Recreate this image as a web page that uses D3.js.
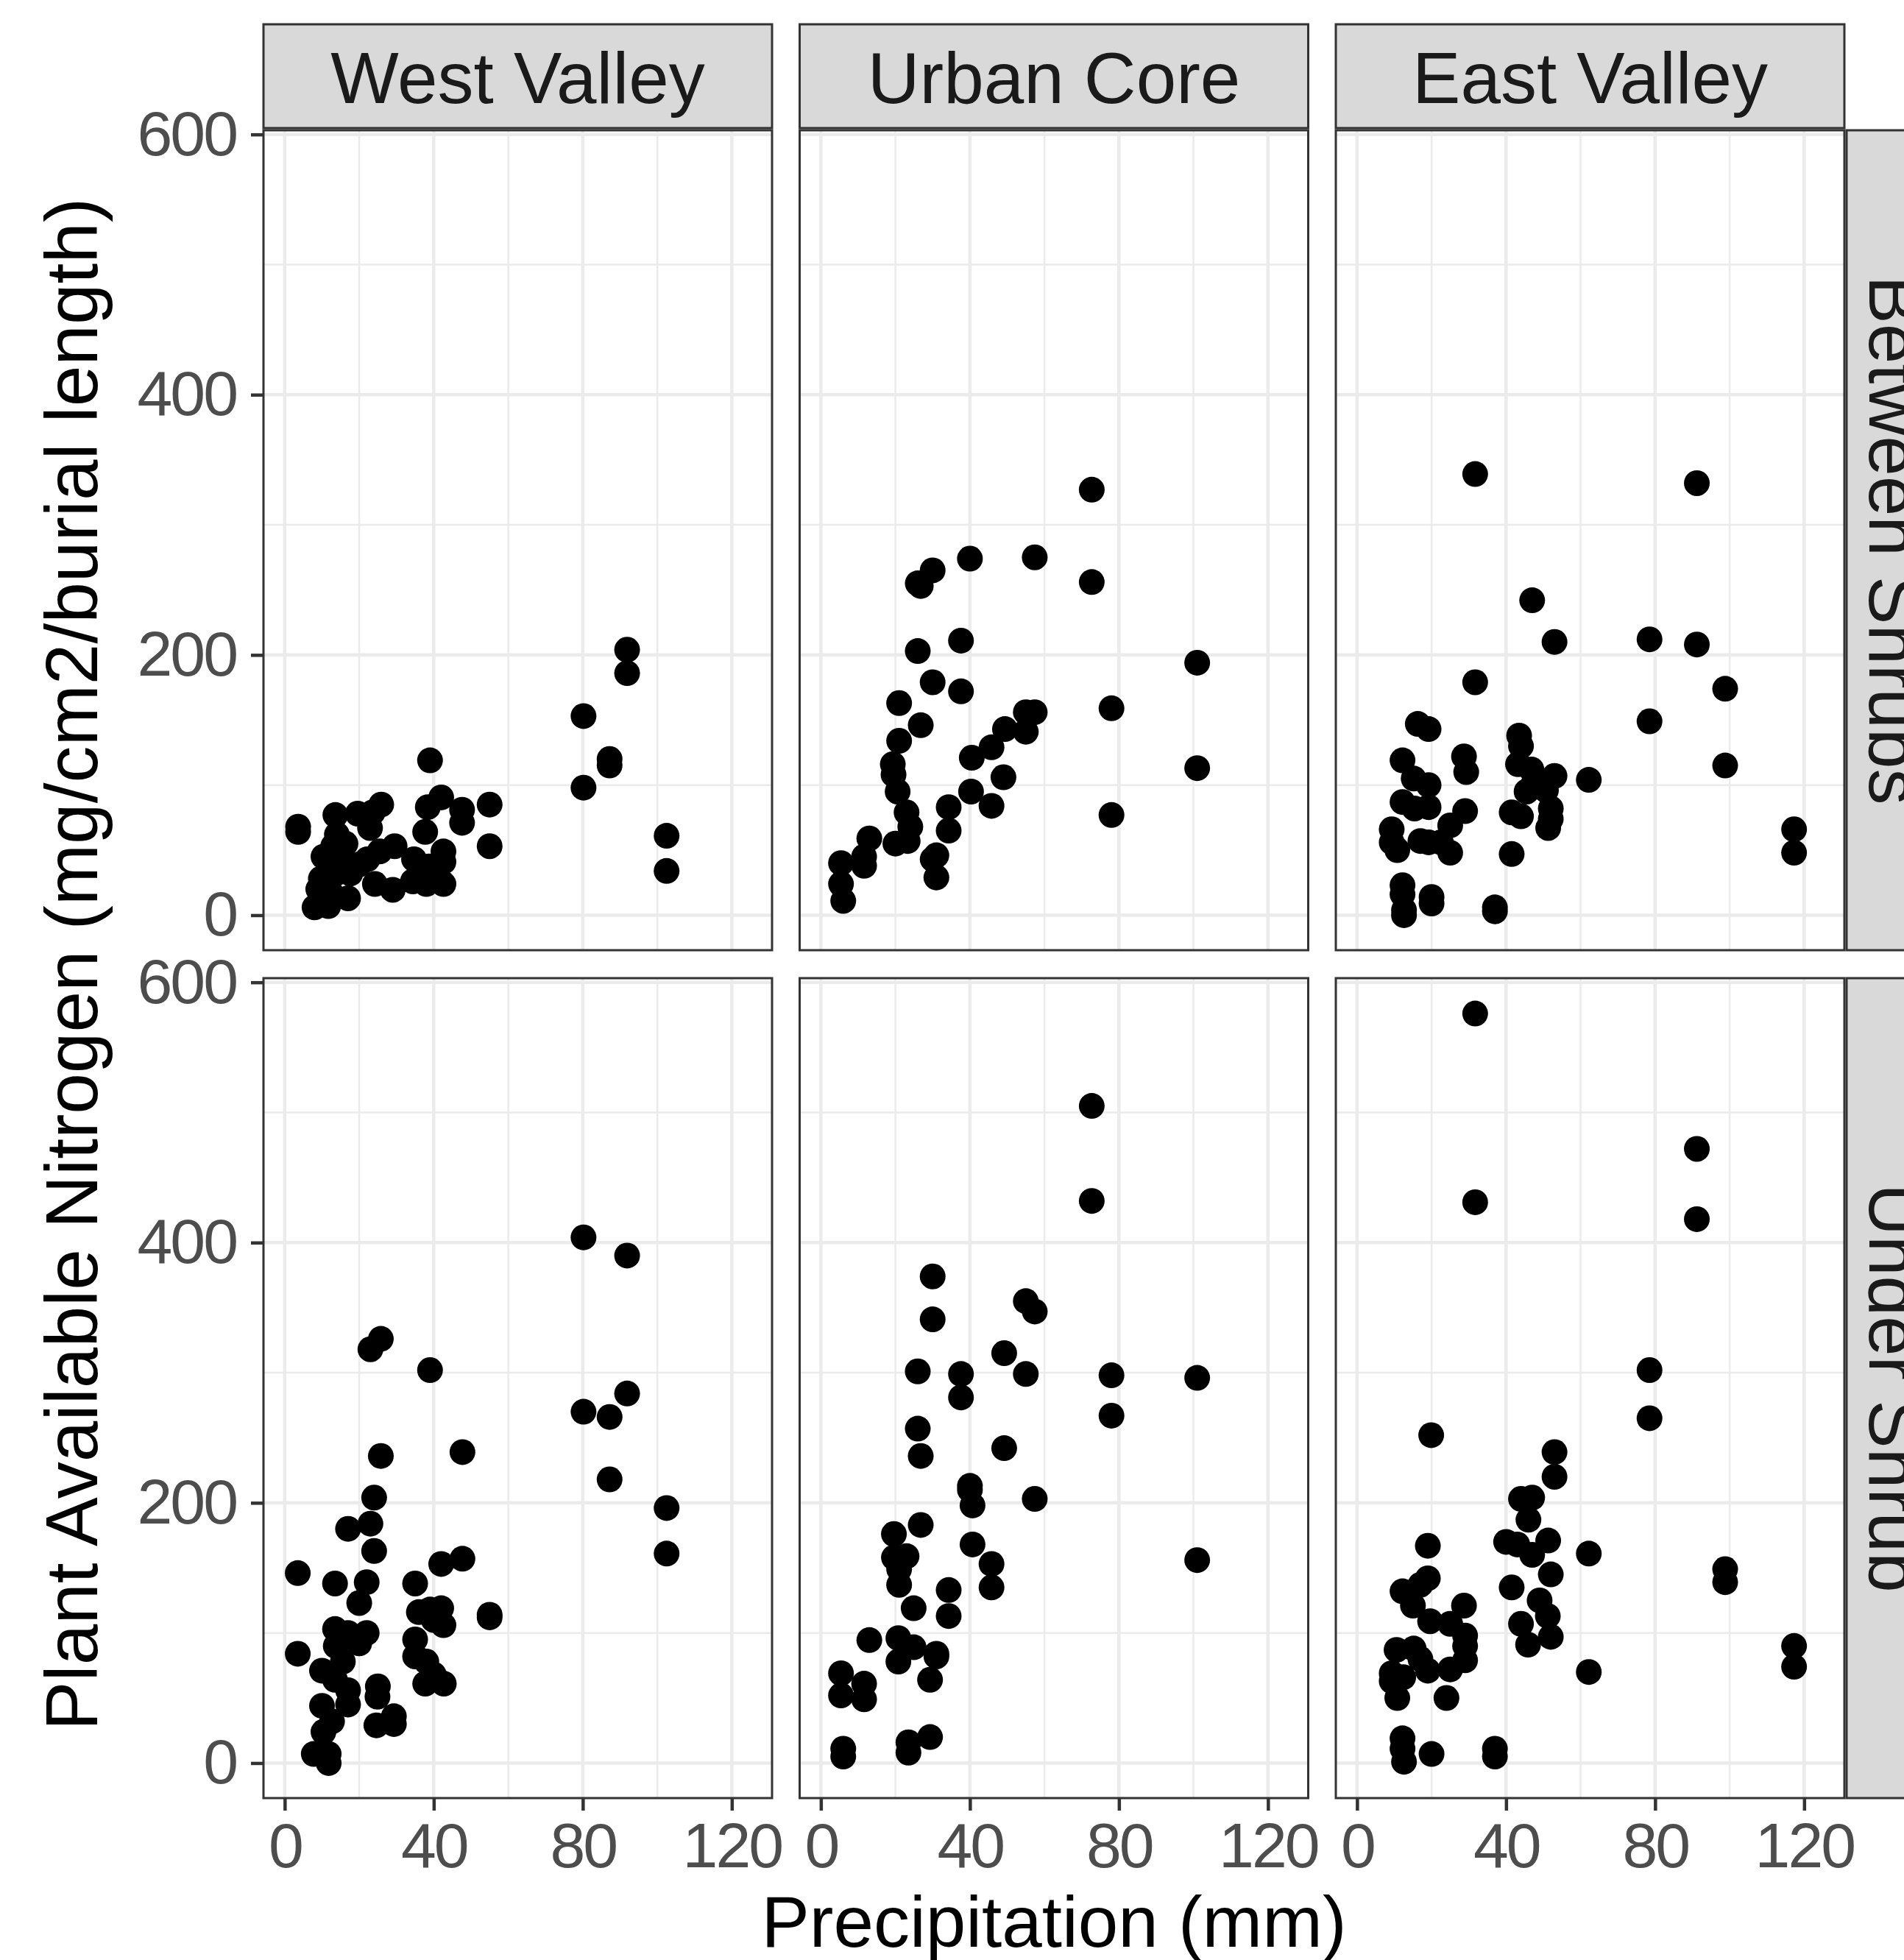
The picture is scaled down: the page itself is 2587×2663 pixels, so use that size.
<!DOCTYPE html>
<html>
<head>
<meta charset="utf-8">
<script src="https://cdn.jsdelivr.net/npm/d3@7"></script>
<style>
  body { margin: 0; background: #fff; }
  text { font-family: "Liberation Sans", Arial, Helvetica, sans-serif; }
</style>
</head>
<body>
<script>
// 数据
var sites = ["West Valley", "Urban Core", "East Valley"];
var positions = ["Between Shrubs", "Under Shrub"];
var xTicks = [0, 40, 80, 120];
var xMinor = [20, 60, 100];
var yTicks = [0, 200, 400, 600];
var yMinor = [100, 300, 500];
var xDomain = [-5.7, 130.8];
var yDomain = [-26.9, 603.2];

var westBetween = [[3.6,68],[3.6,64],[8,6],[9,20],[9.7,28],[10.4,45],[11.7,7],[12.4,17],[13,53],[13.6,77],
  [13.7,32],[14,62],[15,43],[16.3,55],[17,13],[17.6,32],[19.6,78],[20,39],[22.2,43],[22.9,67],[23.6,79],
  [24.2,24],[25.5,49],[25.9,85],[29,19.5],[29.5,53],[34.4,26],[34.7,43],[37.7,64],[38,24],[38.4,83],
  [38.7,37.5],[39,119],[42,90.5],[42.6,49],[42.6,41],[42.6,24],[47.6,81],[47.6,71],[55,85],[55,53],
  [80.2,153],[80.2,98],[87.2,120],[87.2,115],[91.9,204],[91.9,186],[102.5,61],[102.5,34]];
var westUnder = [[3.5,146],[3.5,84],[7.8,7],[10,71],[10,44],[10.4,24],[11.8,7],[11.8,0],[12.7,32],[13.5,138],
  [13.5,103],[13.7,90],[13.5,64],[15.6,78],[17,180],[17,100],[17,56],[17,45],[20,123],[20,92],[22,139],
  [22,100],[23,318],[23,184],[24,204],[24,163],[24.6,29],[25,59],[24.9,51],[25.8,326],[25.8,236],[29.3,36],
  [29.3,30],[35,138],[35,95],[35,82],[36,116],[37.7,61],[38,78],[39,302],[39,118],[40,68],[40,110],[42,153],
  [42,119],[42.6,106],[42.7,61],[47.7,239],[47.7,157],[55,114],[55,112],[80.2,404],[80.2,270],[87.2,266],
  [87.2,218],[91.9,390],[91.9,284],[102.5,196],[102.5,161]];
var urbanBetween = [[5.4,40],[5.4,24],[6,11],[11.6,45],[11.6,38],[13,59],[19.3,116],[19.5,108],[20,55],[20.6,95],
  [21,163],[21,134],[23,79],[23.3,57],[24,68],[26,255],[26.8,253],[26,203],[26.8,146],[30,265],[30,179],
  [30,43],[31,46],[31,29],[34.3,83],[34.3,65],[37.6,211],[37.6,172],[40,274],[40.5,121],[40.3,95],[45.8,129],
  [45.8,84],[49.4,143],[49,106],[55,156],[55,141],[57.4,275],[57.4,156],[72.7,327],[72.7,256],[78,159],
  [78,77],[101,194],[101,113]];
var urbanUnder = [[5.4,69],[5.4,52],[6,11],[6,5],[11.6,61],[11.6,49],[13,94.5],[19.6,176],[19.6,158],[20.8,96],
  [20.8,78],[21,149],[21,137],[23,159],[23.5,16],[23.5,8],[24.9,119],[24.9,89],[26,301],[26,257],[26.8,236],
  [26.8,183],[29.3,64],[29.3,20],[30,374],[30,341],[31,84],[31,82],[34.3,133],[34.3,113],[37.6,299],
  [37.6,281],[40,213],[40,210],[40.7,198],[40.7,168],[45.8,153],[45.8,135],[49.2,315],[49.2,242],[55,355],
  [55,299],[57.4,347],[57.4,203],[72.7,505],[72.7,432],[78,298],[78,267],[101,296],[101,156]];
var eastBetween = [[9.3,66],[9.3,56],[10.8,50],[12.2,119],[12.2,87],[12.2,23],[12.2,16],[12.6,4],[12.6,0],
  [15.2,105],[15.4,82],[16.3,147],[17,57],[19.2,143],[19.2,100],[19.2,83],[19.2,56],[20,14],[20,9],[22.5,56],
  [25,69],[25,48],[28.7,122],[29.3,110],[29,80],[31.7,339],[31.7,179],[37,6],[37,3],[41.5,79],[41.5,47],
  [43.2,116],[43.5,138],[44,130],[44,76],[45.5,95],[46.8,112],[47,242],[47.2,100],[50.7,96],[51.3,67],
  [52,82],[52,74],[53,210],[53,107],[62.2,104],[78.5,212],[78.5,149],[91.2,332],[91.2,208],[98.8,174],
  [98.8,115],[117.3,66],[117.3,48]];
var eastUnder = [[9.3,69],[9.3,63],[10.6,87],[10.8,50],[12.2,132],[12.2,19],[12.2,11],[12.4,66],[12.6,1],
  [15,121],[15.2,88],[17,137],[17,80],[19,167],[19,142],[19,71],[19.6,109],[19.9,252],[20,7],[24,50],
  [25,107],[25,72],[28.7,121],[29,98],[29,90],[29,79],[31.7,576],[31.7,431],[37,11],[37,5],[40,170],
  [41.5,135],[43,168],[44,203],[44,107],[45.9,91],[46,187],[47,204],[47,160],[49,125],[51.2,113],[51.3,171],
  [52,145],[52,97],[53,239],[53,220],[62.2,161],[62.2,70],[78.5,302],[78.5,265],[91.2,472],[91.2,418],
  [98.8,149],[98.8,139],[117.3,90],[117.3,74]];

var panelData = [
  [westBetween, urbanBetween, eastBetween],
  [westUnder, urbanUnder, eastUnder]
];

function drawChart() {
  var width = 2587, height = 2663;
  var panelLeft = 358, panelTop = 177;
  var panelW = 691, panelH = 1114;
  var colStep = 728.5, rowStep = 1152;
  var stripSize = 141;

  var svg = d3.select("body").append("svg")
    .attr("width", width)
    .attr("height", height);

  var x = d3.scaleLinear().domain(xDomain).range([0, panelW]);
  var y = d3.scaleLinear().domain(yDomain).range([panelH, 0]);

  positions.forEach(function(pos, r) {
    sites.forEach(function(site, c) {
      var g = svg.append("g")
        .attr("transform", "translate(" + (panelLeft + c * colStep) + "," + (panelTop + r * rowStep) + ")");

      //背景
      g.append("rect")
        .attr("width", panelW)
        .attr("height", panelH)
        .attr("fill", "#fff");

      //次网格线
      g.selectAll(".xminor").data(xMinor).enter().append("line")
        .attr("x1", function(d) { return x(d); })
        .attr("x2", function(d) { return x(d); })
        .attr("y1", 0).attr("y2", panelH)
        .attr("stroke", "#EBEBEB").attr("stroke-width", 2.5);
      g.selectAll(".yminor").data(yMinor).enter().append("line")
        .attr("y1", function(d) { return y(d); })
        .attr("y2", function(d) { return y(d); })
        .attr("x1", 0).attr("x2", panelW)
        .attr("stroke", "#EBEBEB").attr("stroke-width", 2.5);

      //主网格线
      g.selectAll(".xmajor").data(xTicks).enter().append("line")
        .attr("x1", function(d) { return x(d); })
        .attr("x2", function(d) { return x(d); })
        .attr("y1", 0).attr("y2", panelH)
        .attr("stroke", "#EBEBEB").attr("stroke-width", 4.5);
      g.selectAll(".ymajor").data(yTicks).enter().append("line")
        .attr("y1", function(d) { return y(d); })
        .attr("y2", function(d) { return y(d); })
        .attr("x1", 0).attr("x2", panelW)
        .attr("stroke", "#EBEBEB").attr("stroke-width", 4.5);

      //散点
      g.selectAll(".pt").data(panelData[r][c]).enter().append("circle")
        .attr("cx", function(d) { return x(d[0]); })
        .attr("cy", function(d) { return y(d[1]); })
        .attr("r", 17.5)
        .attr("fill", "#000");

      //边框
      g.append("rect")
        .attr("width", panelW)
        .attr("height", panelH)
        .attr("fill", "none")
        .attr("stroke", "#333333")
        .attr("stroke-width", 3);

      //x轴
      if (r === positions.length - 1) {
        var ax = g.append("g")
          .attr("transform", "translate(0," + panelH + ")")
          .call(d3.axisBottom(x).tickValues(xTicks).tickSize(17).tickPadding(16));
        styleAxis(ax);
      }
      //y轴
      if (c === 0) {
        var ay = g.append("g")
          .call(d3.axisLeft(y).tickValues(yTicks).tickSize(17).tickPadding(20));
        styleAxis(ay);
      }

      //顶部标签
      if (r === 0) {
        g.append("rect")
          .attr("x", 0)
          .attr("y", -panelTop + 33)
          .attr("width", panelW)
          .attr("height", stripSize)
          .attr("fill", "#D9D9D9")
          .attr("stroke", "#333333")
          .attr("stroke-width", 3);
        g.append("text")
          .attr("x", panelW / 2)
          .attr("y", -panelTop + 140)
          .attr("text-anchor", "middle")
          .attr("font-size", 98)
          .attr("fill", "#1A1A1A")
          .text(site);
      }

      //右侧标签
      if (c === sites.length - 1) {
        g.append("rect")
          .attr("x", panelW + 3)
          .attr("y", 0)
          .attr("width", stripSize)
          .attr("height", panelH)
          .attr("fill", "#D9D9D9")
          .attr("stroke", "#333333")
          .attr("stroke-width", 3);
        g.append("text")
          .attr("transform", "translate(" + (panelW + 34) + "," + (panelH / 2) + ") rotate(90)")
          .attr("text-anchor", "middle")
          .attr("font-size", 98)
          .attr("fill", "#1A1A1A")
          .text(pos);
      }
    });
  });

  //坐标轴标题
  svg.append("text")
    .attr("x", panelLeft + (2 * colStep + panelW) / 2)
    .attr("y", 2645)
    .attr("text-anchor", "middle")
    .attr("font-size", 98)
    .attr("fill", "#000")
    .text("Precipitation (mm)");

  svg.append("text")
    .attr("transform", "translate(132," + (panelTop + (rowStep + panelH) / 2) + ") rotate(-90)")
    .attr("text-anchor", "middle")
    .attr("font-size", 100)
    .attr("fill", "#000")
    .text("Plant Available Nitrogen (mg/cm2/burial length)");
}

function styleAxis(a) {
  a.select(".domain").remove();
  a.selectAll(".tick line")
    .attr("stroke", "#333333")
    .attr("stroke-width", 4.5);
  a.selectAll(".tick text")
    .attr("font-size", 86)
    .attr("letter-spacing", -3)
    .attr("fill", "#4D4D4D")
    .style("font-family", "'Liberation Sans', Arial, Helvetica, sans-serif");
}

drawChart();
</script>
</body>
</html>
